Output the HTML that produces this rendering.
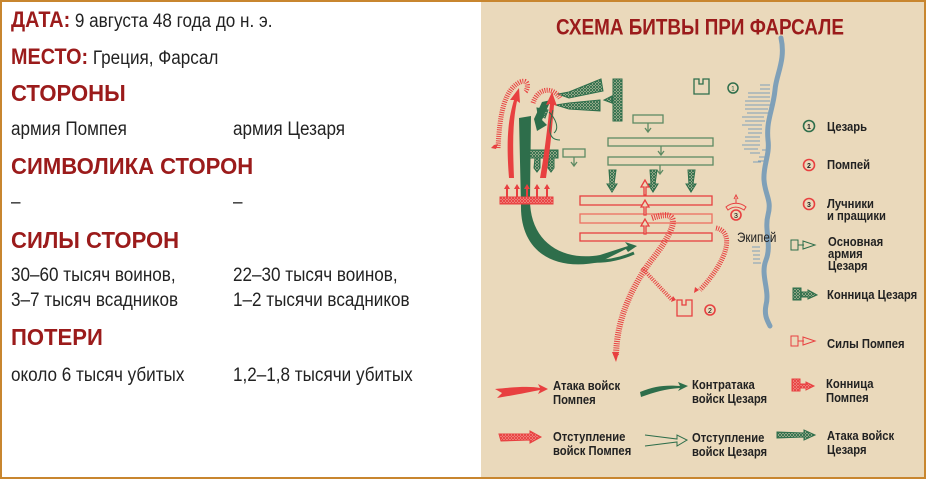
<!DOCTYPE html>
<html><head><meta charset="utf-8"><style>
html,body{margin:0;padding:0}
body{width:926px;height:479px;position:relative;overflow:hidden;background:#fff;font-family:"Liberation Sans",sans-serif}
.frame{position:absolute;left:0;top:0;width:922px;height:475px;border:2px solid #c8862f}
.left{position:absolute;left:2px;top:2px;width:479px;height:475px;background:#fff}
.right{position:absolute;left:481px;top:2px;width:443px;height:475px;background:#ead9bb}
.t{position:absolute;font-size:19px;color:#222;white-space:nowrap;transform:scaleX(.9);transform-origin:0 0}
.t b{font-size:22px}
.h{position:absolute;font-size:23px;font-weight:bold;color:#9b1b1b;white-space:nowrap;transform:scaleX(.96);transform-origin:0 0}
.n{transform-box:fill-box;transform-origin:0 100%;transform:scale(.9,1.06)}
</style></head><body>
<div class="left"></div>
<div class="right"></div>
<div class="frame"></div>
<div class="t" style="left:11px;top:7px"><b style="color:#9b1b1b">ДАТА:</b> 9 августа 48 года до н. э.</div>
<div class="t" style="left:11px;top:44px"><b style="color:#9b1b1b">МЕСТО:</b> Греция, Фарсал</div>
<div class="h" style="left:11px;top:80px">СТОРОНЫ</div>
<div class="t" style="left:11px;top:119px">армия Помпея</div>
<div class="t" style="left:233px;top:119px">армия Цезаря</div>
<div class="h" style="left:11px;top:153px">СИМВОЛИКА СТОРОН</div>
<div class="t" style="left:11px;top:192px">–</div>
<div class="t" style="left:233px;top:192px">–</div>
<div class="h" style="left:11px;top:227px">СИЛЫ СТОРОН</div>
<div class="t" style="left:11px;top:265px">30–60 тысяч воинов,</div>
<div class="t" style="left:11px;top:290px">3–7 тысяч всадников</div>
<div class="t" style="left:233px;top:265px">22–30 тысяч воинов,</div>
<div class="t" style="left:233px;top:290px">1–2 тысячи всадников</div>
<div class="h" style="left:11px;top:324px">ПОТЕРИ</div>
<div class="t" style="left:11px;top:365px">около 6 тысяч убитых</div>
<div class="t" style="left:233px;top:365px">1,2–1,8 тысячи убитых</div>

<svg style="position:absolute;left:0;top:0" width="926" height="479" viewBox="0 0 926 479" font-family="Liberation Sans, sans-serif">
<defs>
<pattern id="gh" width="3" height="3" patternUnits="userSpaceOnUse"><rect width="3" height="3" fill="#ead9bb"/><path d="M0 0L3 3M3 0L0 3" stroke="#2e6e4b" stroke-width="1"/></pattern>
<pattern id="rh" width="3" height="3" patternUnits="userSpaceOnUse"><rect width="3" height="3" fill="#f8b0a8"/><path d="M0 0L3 3M3 0L0 3" stroke="#e84040" stroke-width="1"/></pattern>
</defs>
<text x="556" y="35" font-size="21" font-weight="bold" fill="#9b1b1b" class="n">СХЕМА БИТВЫ ПРИ ФАРСАЛЕ</text>
<path d="M781 38 C786 60,776 75,775 90 C773 110,766 120,768 140 C770 155,763 165,764 180 C765 195,772 200,768 215 C764 230,772 245,766 260 C760 275,770 290,766 305 C764 315,767 320,770 326" fill="none" stroke="#7fa0b8" stroke-width="5" stroke-linecap="round"/>
<g stroke="#7fa0b8" stroke-width="1">
<path d="M760 85h10M760 89h10M748 93h22M748 97h22M745 101h25M745 105h25M745 109h23M747 113h21M742 117h22M745 121h20M742 125h20M748 129h14M748 133h14M745 137h15M745 141h15M742 145h18M744 149h14M750 153h10M762 150h8M759 157h8M758 161h8M753 162h8"/>
<path d="M752 247h8M752 251h8M753 255h7M753 259h7M753 263h8"/>
</g>
<rect x="613" y="79" width="9" height="42" fill="url(#gh)" stroke="#2e6e4b"/>
<polygon points="601,79 569,92 558,94 569,98 603,91" fill="url(#gh)" stroke="#2e6e4b"/>
<polygon points="600,100 569,103 556,105 569,109 600,111" fill="url(#gh)" stroke="#2e6e4b"/>
<polygon points="612,96 604,100 612,103" fill="url(#gh)" stroke="#2e6e4b"/>
<path d="M694 94V79h5v5h4v-5h6v15z" fill="none" stroke="#2e6e4b" stroke-width="1.3"/>
<circle cx="733" cy="88" r="5" fill="none" stroke="#2e6e4b" stroke-width="1.5"/><text x="733" y="91" font-size="7" text-anchor="middle" fill="#2e6e4b">1</text>
<g fill="none" stroke="#5e8a63" stroke-width="1.3">
<rect x="633" y="115" width="30" height="8"/><rect x="608" y="138" width="105" height="8"/><rect x="608" y="157" width="105" height="8"/>
<rect x="563" y="149" width="22" height="8"/>
<path d="M648 123v8M645 128l3 4 3-4M661 146v8M658 151l3 4 3-4M660 165v8M657 170l3 4 3-4M574 157v8M571 162l3 4 3-4"/>
</g>
<g fill="url(#gh)" stroke="#2e6e4b">
<polygon points="609,170 616,170 614,184 617,184 612,192 607,184 610,184"/>
<polygon points="650,170 657,170 655,184 658,184 653,192 648,184 651,184"/>
<polygon points="688,170 695,170 693,184 696,184 691,192 686,184 689,184"/>
<rect x="530" y="150" width="28" height="8"/>
<polygon points="535,158 540,158 540,168 537,172 534,168"/>
<polygon points="549,158 554,158 554,168 551,172 548,168"/>
<polygon points="537,108 548,110 545,118 538,114"/>
</g>
<g fill="none" stroke="#e84040" stroke-width="1.3">
<rect x="580" y="196" width="132" height="9"/><rect x="580" y="214" width="132" height="9" stroke="#ee7060"/><rect x="580" y="233" width="132" height="8"/>
<path d="M645 180l-4 7h3v8h2v-8h3zM645 200l-4 7h3v8h2v-8h3zM645 219l-4 7h3v8h2v-8h3z" fill="#ead9bb"/>
</g>
<path d="M519 118 L531 116 L530 200 C530 240,560 262,600 255 L628 246 L625 242 L637 246 L628 252 L626 249 L600 262 C552 272,520 250,521 205 Z" fill="#2e6e4b"/>
<path d="M536 238 C560 262,600 268,634 253" fill="none" stroke="#2e6e4b" stroke-width="3"/>
<path d="M542 102 L551 100 L542 120 L547 125 L537 131 L534 119Z" fill="#2e6e4b"/>
<rect x="500" y="197" width="53" height="7" fill="url(#rh)" stroke="#e84040"/>
<g fill="#e84040"><path d="M506 197v-8h-2l3-5 3 5h-2v8zM516 197v-8h-2l3-5 3 5h-2v8zM526 197v-8h-2l3-5 3 5h-2v8zM536 197v-8h-2l3-5 3 5h-2v8zM546 197v-8h-2l3-5 3 5h-2v8z"/>
<path d="M509 178 C506 140,508 120,514 100 L510 100 L519 88 L520 103 L517 101 C512 125,513 150,514 178Z"/>
<path d="M540 178 C545 150,547 130,550 104 L546 105 L552 92 L557 106 L554 105 C552 130,550 150,546 178Z"/>
</g>
<path d="M498 148 C500 110,505 90,520 82 C530 78,528 90,525 92" fill="none" stroke="#e84040" stroke-width="5" stroke-dasharray="1 1.2"/>
<path d="M494 145 l-3 3 5 1 2-5z" fill="#e84040"/>
<path d="M533 103 C538 88,552 86,560 98" fill="none" stroke="#e84040" stroke-width="5" stroke-dasharray="1 1.2"/>
<path d="M554 133 C560 128,555 118,549 112 M553 110 C548 130,548 140,560 140" fill="none" stroke="#2e6e4b" stroke-width="1"/>
<path d="M652 218 C690 205,668 240,650 262 C630 290,617 320,616 355" fill="none" stroke="#e84040" stroke-width="6" stroke-dasharray="1 1.2"/>
<path d="M612 352 l4 10 3-10z" fill="#e84040"/>
<path d="M642 268 L672 300" stroke="#e84040" stroke-width="4" stroke-dasharray="1 1.2"/>
<path d="M716 228 C735 232,728 260,700 290" fill="none" stroke="#e84040" stroke-width="5" stroke-dasharray="1 1.2"/>
<path d="M694 293l1-6 4 3z M671 302l2-6 3 4z" fill="#e84040"/>
<path d="M677 316V300h5v5h4v-5h6v16z" fill="none" stroke="#e84040" stroke-width="1.3"/>
<circle cx="710" cy="310" r="5" fill="none" stroke="#e84040" stroke-width="1.6"/><text x="710" y="313" font-size="7" text-anchor="middle">2</text>
<path d="M726 207 C732 202,740 202,746 207 L744 210 C738 206,733 206,728 210Z" fill="none" stroke="#e84040"/>
<path d="M736 203v-5M734 199l2-4 2 4" stroke="#e84040" fill="none"/>
<circle cx="736" cy="215" r="5" fill="none" stroke="#e84040" stroke-width="1.6"/><text x="736" y="218" font-size="7" text-anchor="middle">3</text>
<text x="737" y="242" font-size="13" fill="#222" class="n">Экипей</text>
<g font-size="12.5" font-weight="bold" fill="#222">
<circle cx="809" cy="126" r="5.5" fill="none" stroke="#2e6e4b" stroke-width="1.6"/><text x="809" y="129" font-size="7" text-anchor="middle">1</text>
<text x="827" y="131" class="n">Цезарь</text>
<circle cx="809" cy="165" r="5.5" fill="none" stroke="#e84040" stroke-width="1.6"/><text x="809" y="168" font-size="7" text-anchor="middle">2</text>
<text x="827" y="169" class="n">Помпей</text>
<circle cx="809" cy="204" r="5.5" fill="none" stroke="#e84040" stroke-width="1.6"/><text x="809" y="207" font-size="7" text-anchor="middle">3</text>
<text x="827" y="208" class="n">Лучники</text><text x="827" y="220" class="n">и пращики</text>
<rect x="791" y="240" width="7" height="10" fill="none" stroke="#2e6e4b"/><path d="M798 245h6M803 241l12 4-12 4z" fill="none" stroke="#2e6e4b"/>
<text x="828" y="246" class="n">Основная</text><text x="828" y="258" class="n">армия</text><text x="828" y="270" class="n">Цезаря</text>
<rect x="793" y="288" width="8" height="12" fill="url(#gh)" stroke="#2e6e4b"/><polygon points="801,292 808,292 808,290 817,295 808,299 808,297 801,297" fill="url(#gh)" stroke="#2e6e4b"/>
<text x="827" y="299" class="n">Конница Цезаря</text>
<rect x="791" y="336" width="7" height="10" fill="none" stroke="#e84040"/><path d="M798 341h6M803 337l12 4-12 4z" fill="none" stroke="#e84040"/>
<text x="827" y="348" class="n">Силы Помпея</text>
<path d="M495 389 C515 387,530 386,540 388 L538 384 L548 389 L538 394 L540 390 C530 392,515 395,497 398 L502 393Z" fill="#e84040"/>
<text x="553" y="390" class="n">Атака войск</text><text x="553" y="404" class="n">Помпея</text>
<path d="M640 392 C655 386,665 385,680 386 L678 382 L688 386 L678 391 L680 388 C665 389,655 392,641 397Z" fill="#2e6e4b"/>
<text x="692" y="389" class="n">Контратака</text><text x="692" y="403" class="n">войск Цезаря</text>
<rect x="792" y="379" width="8" height="12" fill="url(#rh)" stroke="#e84040"/><polygon points="800,384 806,384 806,382 814,386 806,390 806,388 800,388" fill="url(#rh)" stroke="#e84040"/>
<text x="826" y="388" class="n">Конница</text><text x="826" y="402" class="n">Помпея</text>
<polygon points="499,434 530,434 530,431 541,437 530,443 530,440 501,441" fill="url(#rh)" stroke="#e84040"/>
<text x="553" y="441" class="n">Отступление</text><text x="553" y="455" class="n">войск Помпея</text>
<path d="M645 435 L677 439 L677 435 L687 440 L677 446 L677 442 L645 446" fill="none" stroke="#2e6e4b"/>
<text x="692" y="442" class="n">Отступление</text><text x="692" y="456" class="n">войск Цезаря</text>
<polygon points="777,432 804,433 804,430 815,435 804,440 804,437 777,438" fill="url(#gh)" stroke="#2e6e4b"/>
<text x="827" y="440" class="n">Атака войск</text><text x="827" y="454" class="n">Цезаря</text>
</g>
</svg>
</body></html>
